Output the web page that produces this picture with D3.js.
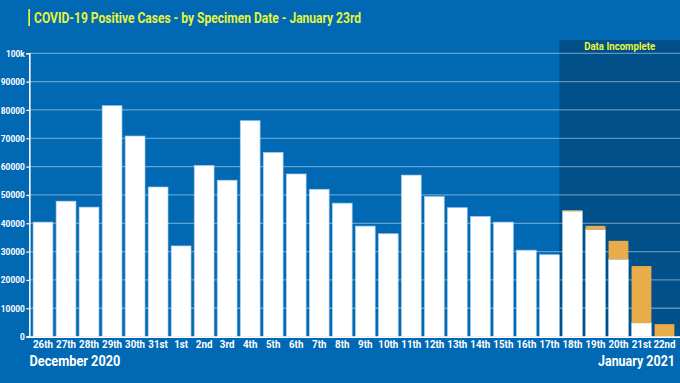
<!DOCTYPE html>
<html><head><meta charset="utf-8">
<script src="https://cdn.jsdelivr.net/npm/d3@7"></script>
<style>
html,body{margin:0;padding:0;background:#0169b3;}
svg{display:block;}
text{font-family:Roboto,"Liberation Sans",sans-serif;font-weight:bold;}
</style></head>
<body>
<svg id="c" width="680" height="383"></svg>
<script>
const categories = ["26th","27th","28th","29th","30th","31st","1st","2nd","3rd","4th","5th","6th","7th","8th","9th","10th","11th","12th","13th","14th","15th","16th","17th","18th","19th","20th","21st","22nd"];
const complete = [40400,47800,45700,81500,70800,52800,32000,60400,55200,76200,65000,57400,52000,47100,39000,36300,57000,49400,45500,42400,40400,30500,28900,44300,37800,27300,4800,0];
const incomplete = [0,0,0,0,0,0,0,0,0,0,0,0,0,0,0,0,0,0,0,0,0,0,0,300,1300,6500,20100,4400];
const yTicks = [0,10000,20000,30000,40000,50000,60000,70000,80000,90000,100000];
const yTickLabels = ["0","10000","20000","30000","40000","50000","60000","70000","80000","90000","100k"];
const incompleteStart = "18th";
const titleText = "COVID-19 Positive Cases - by Specimen Date - January 23rd";
const leftMonth = "December 2020";
const rightMonth = "January 2021";
const shadeLabel = "Data Incomplete";

const svg = d3.select("#c");
const W = 680, H = 383;
svg.append("rect").attr("width",W).attr("height",H).attr("fill","#0169b3");

// condense texts horizontally so that a reference string gets a given width
function condense(sel, refWidth, refNatural){
  const k = refWidth / refNatural;
  sel.each(function(){
    const n = this.getComputedTextLength();
    d3.select(this).attr("textLength", n*k).attr("lengthAdjust","spacingAndGlyphs");
  });
}
function natural(text, size){
  const t = svg.append("text").attr("font-size",size).text(text);
  const n = t.node().getComputedTextLength();
  t.remove();
  return n;
}
// place a text at (px,py) squeezed to a given width through a scale transform
function squeezed(text, px, py, size, width, fill){
  const k = width / natural(text, size);
  return svg.append("text").attr("transform",`translate(${px},${py}) scale(${k},1)`)
    .attr("font-size",size).attr("fill",fill).text(text);
}

const x = d3.scaleBand().domain(categories).range([31.5,676]).paddingInner(0.14).paddingOuter(0.07);
const y = d3.scaleLinear().domain([0,100000]).range([336.6,53.3]);

// shaded incomplete region
const shadeX = x(incompleteStart) - (x.step() - x.bandwidth());
svg.append("rect").attr("x",shadeX).attr("y",40).attr("width",W-shadeX).attr("height",y(0)-40)
  .attr("fill","#02508a");

// gridlines
svg.append("g").selectAll("line").data(yTicks.slice(1)).join("line")
  .attr("x1",29).attr("x2",W).attr("y1",d=>y(d)).attr("y2",d=>y(d))
  .attr("stroke","rgba(255,255,255,0.38)").attr("stroke-width",1.3);

// shade label
const sl = svg.append("text").attr("x",(shadeX+W)/2).attr("y",50).attr("text-anchor","middle")
  .attr("fill","#e6f53c").attr("font-size",10.5).text(shadeLabel);
condense(sl, 71, natural(shadeLabel,10.5));

// bars
const data = categories.map((c,i)=>({c, a:complete[i], b:incomplete[i]}));
svg.append("g").selectAll("rect").data(data).join("rect")
  .attr("x",d=>x(d.c)).attr("width",x.bandwidth())
  .attr("y",d=>y(d.a)).attr("height",d=>y(0)-y(d.a))
  .attr("fill","#ffffff").attr("stroke","#a9cbe9").attr("stroke-width",0.7);
svg.append("g").selectAll("rect").data(data.filter(d=>d.b>0)).join("rect")
  .attr("x",d=>x(d.c)).attr("width",x.bandwidth())
  .attr("y",d=>y(d.a+d.b)).attr("height",d=>y(d.a)-y(d.a+d.b))
  .attr("fill","#e8ad48");

// y axis
const yAxis = d3.axisLeft(y).tickValues(yTicks).tickFormat((d,i)=>yTickLabels[i]).tickSize(3).tickPadding(1.5);
const gy = svg.append("g").attr("transform","translate(29.3,0)").call(yAxis);
gy.select(".domain").attr("stroke","#fff").attr("stroke-width",1.6);
gy.selectAll(".tick line").attr("stroke","#fff").attr("stroke-width",1.2);
gy.selectAll(".tick text").attr("fill","#fff").attr("font-size",9.5)
  .attr("font-family","Roboto,'Liberation Sans',sans-serif").attr("font-weight","bold");
condense(gy.selectAll(".tick text"), 24, natural("90000",9.5));

// x axis
const xAxis = d3.axisBottom(x).tickSize(0).tickPadding(4);
const gx = svg.append("g").attr("transform",`translate(0,${y(0)})`).call(xAxis);
gx.select(".domain").attr("d",`M28.5,0.5H${W}`).attr("stroke","#fff").attr("stroke-width",1.6);
gx.selectAll(".tick text").attr("fill","#fff").attr("font-size",11)
  .attr("font-family","Roboto,'Liberation Sans',sans-serif").attr("font-weight","bold");
condense(gx.selectAll(".tick text"), 20, natural("26th",11));

// month labels
squeezed(leftMonth, 29.5, 365.5, 14.5, 91, "#fff");
squeezed(rightMonth, 598, 365.5, 14.5, 77, "#fff");

// title
svg.append("rect").attr("x",28.3).attr("y",9).attr("width",1.7).attr("height",17).attr("fill","#e6f53c");
const tt = svg.append("text").attr("x",34).attr("y",22.7).attr("fill","#e6f53c").attr("font-size",15).text(titleText);
condense(tt, 327, natural(titleText,15));
</script>
</body></html>
